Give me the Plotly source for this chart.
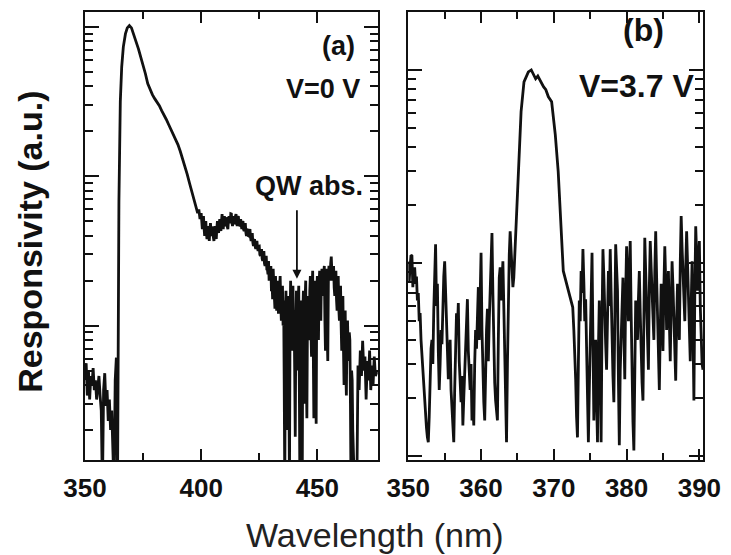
import plotly.graph_objects as go

# ======================= Panel (a): V = 0 V =======================
# smooth part (350 - 399.5 nm)
wl_a_head = [350.0, 350.5, 351.0, 351.5, 352.0, 352.5, 353.0, 353.5, 354.0, 354.5,
             355.0, 355.5, 356.0, 356.5, 357.0, 357.5, 358.0, 358.5, 359.0, 359.5,
             360.0, 360.5, 361.0, 361.5, 362.0, 362.5, 363.0, 363.5,
             364.0, 364.6, 365.2, 365.8, 366.5, 367.4, 368.2, 369.1,
             370, 371, 372, 373, 374, 375, 376, 377, 378, 379,
             380, 381, 382, 383, 384, 385, 386, 387, 388, 389,
             390, 391, 392, 393, 394, 395, 396, 397, 398,
             398.5, 399.0, 399.5]
resp_a_head = [0.043, 0.056, 0.034, 0.050, 0.032, 0.046, 0.040, 0.052, 0.037, 0.043,
               0.032, 0.040, 0.046, 0.034, 0.027, 0.008, 0.037, 0.048, 0.029, 0.037,
               0.023, 0.032, 0.020, 0.027, 0.017, 0.008, 0.043, 0.061,
               0.008, 0.681, 3.16, 5.41, 7.36, 8.98, 9.85, 10.2,
               9.85, 8.98, 7.94, 7.13, 6.31, 5.67, 4.86, 4.17, 3.80, 3.52,
               3.31, 3.16, 2.97, 2.75, 2.59, 2.40, 2.22, 2.06, 1.91, 1.76,
               1.63, 1.47, 1.32, 1.17, 1.03, 0.898, 0.794, 0.702, 0.621,
               0.566, 0.600, 0.517]

# noisy part (400 - 465.75 nm)
wl_a_noise = [
    400.00, 400.25, 400.50, 400.75, 401.00, 401.25, 401.50, 401.75,
    402.00, 402.25, 402.50, 402.75, 403.00, 403.25, 403.50, 403.75,
    404.00, 404.25, 404.50, 404.75, 405.00, 405.25, 405.50, 405.75,
    406.00, 406.25, 406.50, 406.75, 407.00, 407.25, 407.50, 407.75,
    408.00, 408.25, 408.50, 408.75, 409.00, 409.25, 409.50, 409.75,
    410.00, 410.25, 410.50, 410.75, 411.00, 411.25, 411.50, 411.75,
    412.00, 412.25, 412.50, 412.75, 413.00, 413.25, 413.50, 413.75,
    414.00, 414.25, 414.50, 414.75, 415.00, 415.25, 415.50, 415.75,
    416.00, 416.25, 416.50, 416.75, 417.00, 417.25, 417.50, 417.75,
    418.00, 418.25, 418.50, 418.75, 419.00, 419.25, 419.50, 419.75,
    420.00, 420.25, 420.50, 420.75, 421.00, 421.25, 421.50, 421.75,
    422.00, 422.25, 422.50, 422.75, 423.00, 423.25, 423.50, 423.75,
    424.00, 424.25, 424.50, 424.75, 425.00, 425.25, 425.50, 425.75,
    426.00, 426.25, 426.50, 426.75, 427.00, 427.25, 427.50, 427.75,
    428.00, 428.25, 428.50, 428.75, 429.00, 429.25, 429.50, 429.75,
    430.00, 430.25, 430.50, 430.75, 431.00, 431.25, 431.50, 431.75,
    432.00, 432.25, 432.50, 432.75, 433.00, 433.25, 433.50, 433.75,
    434.00, 434.25, 434.50, 434.75, 435.00, 435.25, 435.50, 435.75,
    436.00, 436.25, 436.50, 436.75, 437.00, 437.25, 437.50, 437.75,
    438.00, 438.25, 438.50, 438.75, 439.00, 439.25, 439.50, 439.75,
    440.00, 440.25, 440.50, 440.75, 441.00, 441.25, 441.50, 441.75,
    442.00, 442.25, 442.50, 442.75, 443.00, 443.25, 443.50, 443.75,
    444.00, 444.25, 444.50, 444.75, 445.00, 445.25, 445.50, 445.75,
    446.00, 446.25, 446.50, 446.75, 447.00, 447.25, 447.50, 447.75,
    448.00, 448.25, 448.50, 448.75, 449.00, 449.25, 449.50, 449.75,
    450.00, 450.25, 450.50, 450.75, 451.00, 451.25, 451.50, 451.75,
    452.00, 452.25, 452.50, 452.75, 453.00, 453.25, 453.50, 453.75,
    454.00, 454.25, 454.50, 454.75, 455.00, 455.25, 455.50, 455.75,
    456.00, 456.25, 456.50, 456.75, 457.00, 457.25, 457.50, 457.75,
    458.00, 458.25, 458.50, 458.75, 459.00, 459.25, 459.50, 459.75,
    460.00, 460.25, 460.50, 460.75, 461.00, 461.25, 461.50, 461.75,
    462.00, 462.25, 462.50, 462.75, 463.00, 463.25, 463.50, 463.75,
    464.00, 464.25, 464.50, 464.75, 465.00, 465.25, 465.50, 465.75]
resp_a_noise = [
    0.566, 0.48, 0.443, 0.50, 0.541, 0.45, 0.398, 0.47,
    0.501, 0.42, 0.380, 0.43, 0.464, 0.40, 0.369, 0.44,
    0.486, 0.43, 0.398, 0.46, 0.443, 0.39, 0.369, 0.42,
    0.464, 0.41, 0.380, 0.45, 0.501, 0.44, 0.417, 0.48,
    0.517, 0.46, 0.430, 0.50, 0.558, 0.48, 0.443, 0.52,
    0.541, 0.47, 0.464, 0.53, 0.517, 0.46, 0.443, 0.51,
    0.541, 0.50, 0.486, 0.56, 0.558, 0.49, 0.464, 0.52,
    0.541, 0.48, 0.486, 0.54, 0.558, 0.50, 0.464, 0.53,
    0.541, 0.49, 0.501, 0.46, 0.517, 0.47, 0.443, 0.49,
    0.501, 0.44, 0.430, 0.47, 0.486, 0.42, 0.398, 0.44,
    0.443, 0.40, 0.398, 0.42, 0.443, 0.39, 0.369, 0.40,
    0.417, 0.36, 0.341, 0.37, 0.380, 0.34, 0.326, 0.35,
    0.369, 0.33, 0.316, 0.34, 0.341, 0.30, 0.293, 0.31,
    0.326, 0.28, 0.271, 0.30, 0.316, 0.26, 0.251, 0.28,
    0.293, 0.24, 0.240, 0.22, 0.271, 0.20, 0.215, 0.23,
    0.251, 0.17, 0.200, 0.15, 0.240, 0.19, 0.158, 0.13,
    0.215, 0.16, 0.126, 0.18, 0.200, 0.12, 0.147, 0.21,
    0.215, 0.14, 0.108, 0.16, 0.185, 0.10, 0.147, 0.04,
    0.008, 0.12, 0.171, 0.06, 0.020, 0.13, 0.158, 0.05,
    0.008, 0.10, 0.200, 0.12, 0.068, 0.15, 0.185, 0.09,
    0.126, 0.05, 0.018, 0.10, 0.171, 0.11, 0.050, 0.14,
    0.185, 0.04, 0.008, 0.09, 0.147, 0.03, 0.008, 0.12,
    0.171, 0.06, 0.030, 0.15, 0.200, 0.05, 0.024, 0.11,
    0.158, 0.10, 0.080, 0.17, 0.215, 0.09, 0.062, 0.18,
    0.233, 0.07, 0.024, 0.15, 0.200, 0.05, 0.022, 0.16,
    0.215, 0.12, 0.080, 0.19, 0.233, 0.15, 0.108, 0.21,
    0.240, 0.19, 0.158, 0.22, 0.251, 0.11, 0.068, 0.18,
    0.240, 0.09, 0.058, 0.20, 0.251, 0.22, 0.200, 0.26,
    0.290, 0.23, 0.200, 0.24, 0.251, 0.18, 0.158, 0.21,
    0.233, 0.15, 0.126, 0.20, 0.215, 0.13, 0.108, 0.17,
    0.185, 0.10, 0.068, 0.14, 0.158, 0.07, 0.040, 0.11,
    0.126, 0.05, 0.034, 0.09, 0.108, 0.07, 0.058, 0.09,
    0.080, 0.03, 0.008, 0.05, 0.043, 0.02, 0.008, 0.008]

# tail (466 - 476 nm)
wl_a_tail = [466.0, 466.5, 467.0, 467.5, 468.0, 468.5, 469.0, 469.5, 470.0, 470.5,
             471.0, 471.5, 472.0, 472.5, 473.0, 473.5, 474.0, 474.5, 475.0, 476.0]
resp_a_tail = [0.008, 0.008, 0.008, 0.054, 0.037, 0.068, 0.046, 0.079, 0.050, 0.062,
               0.032, 0.058, 0.043, 0.068, 0.037, 0.054, 0.040, 0.062, 0.046, 0.050]

# ======================= Panel (b): V = 3.7 V =======================
wl_b_left = [
    350.000, 350.125, 350.250, 350.375, 350.500, 350.625, 350.750, 350.875,
    351.000, 351.125, 351.250, 351.375, 351.500, 351.625, 351.750, 351.875,
    352.000, 352.125, 352.250, 352.375, 352.500, 352.625, 352.750, 352.875,
    353.000, 353.125, 353.250, 353.375, 353.500, 353.625, 353.750, 353.875,
    354.000, 354.125, 354.250, 354.375, 354.500, 354.625, 354.750, 354.875,
    355.000, 355.125, 355.250, 355.375, 355.500, 355.625, 355.750, 355.875,
    356.000, 356.125, 356.250, 356.375, 356.500, 356.625, 356.750, 356.875,
    357.000, 357.125, 357.250, 357.375, 357.500, 357.625, 357.750, 357.875,
    358.000, 358.125, 358.250, 358.375, 358.500, 358.625, 358.750, 358.875,
    359.000, 359.125, 359.250, 359.375, 359.500, 359.625, 359.750, 359.875,
    360.000, 360.125, 360.250, 360.375, 360.500, 360.625, 360.750, 360.875,
    361.000, 361.125, 361.250, 361.375, 361.500, 361.625, 361.750, 361.875,
    362.000, 362.125, 362.250, 362.375, 362.500, 362.625, 362.750, 362.875,
    363.000, 363.125, 363.250, 363.375, 363.500, 363.625, 363.750, 363.875,
    364.000, 364.125, 364.250, 364.375, 364.500]
resp_b_left = [
    1.02, 0.80, 0.965, 1.10, 1.09, 0.75, 0.91, 0.95,
    0.78, 0.85, 0.64, 0.70, 0.50, 0.55, 0.40, 0.33,
    0.28, 0.23, 0.19, 0.16, 0.14, 0.125, 0.118, 0.16,
    0.25, 0.36, 0.40, 0.30, 0.566, 0.95, 1.25, 0.60,
    0.78, 0.35, 0.22, 0.30, 0.45, 0.38, 0.64, 0.85,
    1.02, 0.70, 0.50, 0.33, 0.25, 0.30, 0.40, 0.22,
    0.173, 0.14, 0.118, 0.22, 0.35, 0.55, 0.45, 0.62,
    0.31, 0.24, 0.19, 0.26, 0.144, 0.20, 0.28, 0.40,
    0.50, 0.65, 0.35, 0.27, 0.22, 0.30, 0.153, 0.19,
    0.144, 0.30, 0.45, 0.36, 0.64, 0.75, 0.40, 0.80,
    1.13, 0.45, 0.25, 0.19, 0.153, 0.30, 0.45, 0.58,
    0.31, 0.50, 0.78, 1.10, 1.43, 0.70, 0.35, 0.24,
    0.194, 0.17, 0.153, 0.40, 0.84, 0.95, 0.64, 0.80,
    1.02, 0.60, 0.35, 0.18, 0.118, 0.30, 0.64, 1.10,
    1.46, 1.15, 1.02, 0.75, 0.84]

wl_b_peak = [365.00, 365.50, 365.90, 366.50, 366.90, 367.20, 367.50, 367.80, 368.20, 368.60,
             368.90, 369.25, 369.70, 370.20, 370.60, 370.90, 371.30, 372.00, 372.60]
resp_b_peak = [2.35, 6.08, 8.67, 9.77, 10.0, 9.53, 9.0, 9.3, 8.67, 8.17,
               7.9, 7.26, 6.84, 4.62, 2.98, 1.79, 0.91, 0.72, 0.59]

wl_b_right = [
    372.750, 372.875,
    373.000, 373.125, 373.250, 373.375, 373.500, 373.625, 373.750, 373.875,
    374.000, 374.125, 374.250, 374.375, 374.500, 374.625, 374.750, 374.875,
    375.000, 375.125, 375.250, 375.375, 375.500, 375.625, 375.750, 375.875,
    376.000, 376.125, 376.250, 376.375, 376.500, 376.625, 376.750, 376.875,
    377.000, 377.125, 377.250, 377.375, 377.500, 377.625, 377.750, 377.875,
    378.000, 378.125, 378.250, 378.375, 378.500, 378.625, 378.750, 378.875,
    379.000, 379.125, 379.250, 379.375, 379.500, 379.625, 379.750, 379.875,
    380.000, 380.125, 380.250, 380.375, 380.500, 380.625, 380.750, 380.875,
    381.000, 381.125, 381.250, 381.375, 381.500, 381.625, 381.750, 381.875,
    382.000, 382.125, 382.250, 382.375, 382.500, 382.625, 382.750, 382.875,
    383.000, 383.125, 383.250, 383.375, 383.500, 383.625, 383.750, 383.875,
    384.000, 384.125, 384.250, 384.375, 384.500, 384.625, 384.750, 384.875,
    385.000, 385.125, 385.250, 385.375, 385.500, 385.625, 385.750, 385.875,
    386.000, 386.125, 386.250, 386.375, 386.500, 386.625, 386.750, 386.875,
    387.000, 387.125, 387.250, 387.375, 387.500, 387.625, 387.750, 387.875,
    388.000, 388.125, 388.250, 388.375, 388.500, 388.625, 388.750, 388.875,
    389.000, 389.125, 389.250, 389.375, 389.500, 389.625, 389.750, 389.875,
    390.000, 390.125, 390.250, 390.375, 390.500]
resp_b_right = [
    0.45, 0.35,
    0.25, 0.16, 0.125, 0.30, 0.64, 0.50, 0.91, 0.70,
    1.18, 0.80, 0.50, 0.65, 0.31, 0.18, 0.118, 0.22,
    0.35, 0.70, 1.13, 0.40, 0.153, 0.25, 0.40, 0.20,
    0.118, 0.35, 0.64, 0.30, 0.118, 0.50, 1.18, 0.85,
    0.50, 0.38, 0.28, 0.55, 0.91, 0.60, 1.18, 0.70,
    0.35, 0.26, 0.19, 0.60, 1.25, 0.95, 0.72, 0.25,
    0.114, 0.28, 0.45, 0.62, 0.84, 0.45, 0.25, 0.70,
    1.22, 0.80, 0.50, 0.90, 1.30, 0.55, 0.22, 0.15,
    0.107, 0.30, 0.64, 0.50, 0.40, 0.65, 0.91, 0.55,
    0.31, 0.24, 0.194, 0.70, 1.35, 0.90, 0.56, 0.40,
    0.28, 0.75, 1.30, 0.95, 0.64, 0.52, 0.40, 0.90,
    1.46, 0.85, 0.50, 0.32, 0.22, 0.45, 0.78, 0.55,
    0.35, 0.75, 1.22, 0.80, 0.45, 0.65, 0.91, 0.50,
    0.31, 0.60, 1.02, 0.75, 0.56, 0.35, 0.246, 0.50,
    0.78, 0.55, 0.40, 1.00, 1.75, 1.20, 0.84, 0.65,
    0.50, 0.95, 1.46, 1.00, 0.64, 0.45, 0.31, 0.60,
    1.02, 0.45, 0.194, 0.70, 1.55, 1.10, 0.72, 1.00,
    1.30, 0.60, 0.35, 0.30, 0.28]

wl_a = wl_a_head + wl_a_noise + wl_a_tail
resp_a = resp_a_head + resp_a_noise + resp_a_tail
wl_b = wl_b_left + wl_b_peak + wl_b_right
resp_b = resp_b_left + resp_b_peak + resp_b_right

xticks_a = [350, 400, 450]
xminor_a = [375, 425]
xticks_b = [350, 360, 370, 380, 390]
xminor_b = [355, 365, 375, 385]
ymajor = [0.01, 0.1, 1, 10]
yminor = [2, 3, 4, 5, 6, 7, 8, 9,
          0.2, 0.3, 0.4, 0.5, 0.6, 0.7, 0.8, 0.9,
          0.02, 0.03, 0.04, 0.05, 0.06, 0.07, 0.08, 0.09,
          20, 30]

FONT = "Liberation Sans, Arial, sans-serif"
INK = "#111111"

fig = go.Figure()
fig.add_trace(go.Scatter(x=wl_a, y=resp_a, mode="lines",
                         line=dict(color=INK, width=2.8), xaxis="x", yaxis="y",
                         showlegend=False))
fig.add_trace(go.Scatter(x=wl_b, y=resp_b, mode="lines",
                         line=dict(color=INK, width=2.8), xaxis="x2", yaxis="y2",
                         showlegend=False))


def xaxis(dom, rng, ticks, minor, anchor):
    return dict(domain=dom, range=rng, anchor=anchor, showgrid=False, zeroline=False,
                showline=True, linecolor=INK, linewidth=2, mirror="ticks",
                ticks="inside", ticklen=11, tickwidth=2, tickcolor=INK,
                tickvals=ticks, ticktext=["<b>%d</b>" % t for t in ticks],
                tickfont=dict(family=FONT, size=26, color=INK),
                ticklabelstandoff=4,
                minor=dict(tickvals=minor, ticks="inside", ticklen=7,
                           tickwidth=2, tickcolor=INK, showgrid=False))


def yaxis(rng, anchor):
    return dict(type="log", domain=[0, 1], range=rng, anchor=anchor, showgrid=False,
                zeroline=False, showline=True, linecolor=INK, linewidth=2, mirror="ticks",
                ticks="inside", ticklen=14, tickwidth=2, tickcolor=INK,
                tickvals=ymajor, showticklabels=False,
                minor=dict(tickvals=yminor, ticks="inside", ticklen=8,
                           tickwidth=2, tickcolor=INK, showgrid=False))


W, H = 731, 555
L, R, T, B = 85, 19, 10, 95
pw, ph = W - L - R, H - T - B


def px(x):
    return (x - L) / pw


def py(y):
    return (H - B - y) / ph


fig.update_layout(
    width=W, height=H, margin=dict(l=L, r=R, t=T, b=B),
    paper_bgcolor="white", plot_bgcolor="white",
    xaxis=xaxis([0, px(382)], [350, 476], xticks_a, xminor_a, "y"),
    yaxis=yaxis([-1.90, 1.10], "x"),
    xaxis2=xaxis([px(413), 1], [350, 390.5], xticks_b, xminor_b, "y2"),
    yaxis2=yaxis([-1.02, 1.30], "x2"),
    font=dict(family=FONT, color=INK),
)

fa = dict(family=FONT, size=27, color=INK)
fb = dict(family=FONT, size=32, color=INK)
fig.add_annotation(xref="paper", yref="paper", x=px(361), y=py(44), text="<b>(a)</b>",
                   showarrow=False, xanchor="right", yanchor="middle", font=fa)
fig.add_annotation(xref="paper", yref="paper", x=px(366), y=py(87), text="<b>V=0 V</b>",
                   showarrow=False, xanchor="right", yanchor="middle", font=fa)
fig.add_annotation(xref="paper", yref="paper", x=px(369), y=py(185), text="<b>QW abs.</b>",
                   showarrow=False, xanchor="right", yanchor="middle", font=fa)
fig.add_annotation(xref="paper", yref="paper", x=px(674), y=py(28), text="<b>(b)</b>",
                   showarrow=False, xanchor="right", yanchor="middle", font=fb)
fig.add_annotation(xref="paper", yref="paper", x=px(705), y=py(84), text="<b>V=3.7 V</b>",
                   showarrow=False, xanchor="right", yanchor="middle", font=fb)
# arrow marking the QW absorption
fig.add_annotation(xref="paper", yref="paper", x=px(300), y=py(278), text="",
                   showarrow=True, ax=0, ay=-70, arrowhead=2, arrowsize=1,
                   arrowwidth=1.8, arrowcolor=INK)
# axis titles
fig.add_annotation(xref="paper", yref="paper", x=px(379), y=py(535), text="Wavelength (nm)",
                   showarrow=False, xanchor="center", yanchor="middle",
                   font=dict(family=FONT, size=34, color="#222222"))
fig.add_annotation(xref="paper", yref="paper", x=px(29), y=py(241),
                   text="<b>Responsivity (a.u.)</b>", textangle=-90,
                   showarrow=False, xanchor="center", yanchor="middle",
                   font=dict(family=FONT, size=34, color=INK))

fig.write_html("out.html", config={"displayModeBar": False},
               post_script="document.body.style.margin='0';")
